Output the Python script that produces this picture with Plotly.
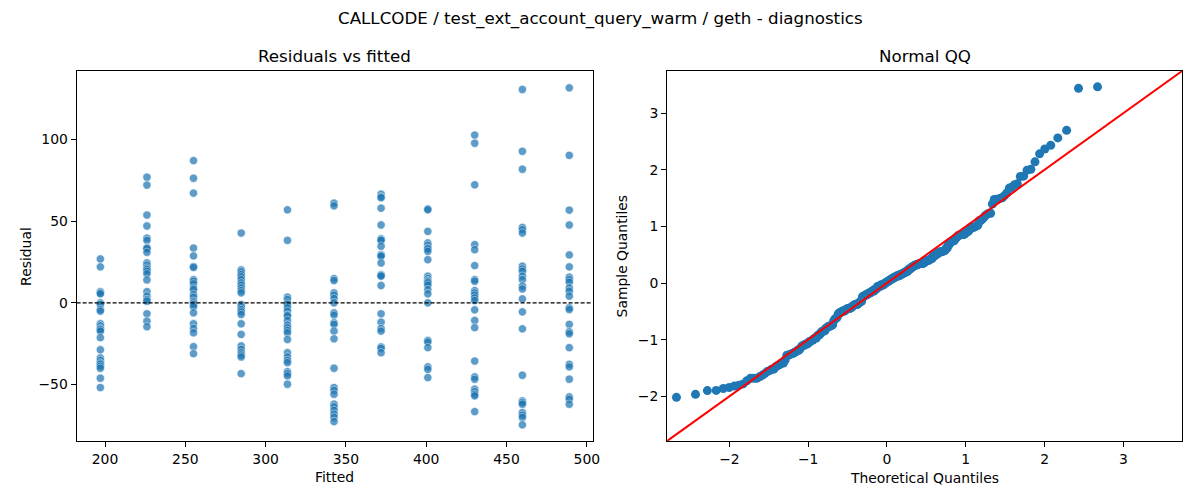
import plotly.graph_objects as go
from statistics import NormalDist

# ---- data ----
FITTED = [197.1, 226.1, 255.1, 284.8, 313.6, 342.6, 371.9, 401.0, 430.2, 459.9, 489.1]

RESID_197 = [26.8, 22.0, 6.9, 6.1, 5.5, 0.0, -1.0, -4.1, -5.1, -12.8, -14.2, -15.7,
             -16.3, -17.3, -21.3, -28.7, -33.7, -35.2, -36.8, -37.5, -38.8, -40.0, -46.1, -51.8]
RESID_226 = [76.8, 72.0, 53.7, 47.0, 39.6, 38.2, 33.7, 33.4, 33.1, 30.9, 24.4, 23.0,
             21.3, 20.5, 19.3, 17.7, 14.0, 6.9, 4.1, 2.0, 1.0, -6.7, -11.2, -14.6]
RESID_255 = [87.0, 76.2, 67.1, 33.5, 28.7, 22.2, 21.7, 14.2, 13.2, 11.6, 9.1, 8.1,
             5.1, 3.5, 1.0, 0.0, -1.0, -2.4, -6.1, -12.8, -15.7, -18.3, -26.8, -31.1]
RESID_285 = [42.7, 20.1, 18.9, 17.3, 15.9, 14.2, 12.2, 10.8, 9.1, 7.5, 6.1, -1.0,
             -2.4, -4.1, -5.5, -7.1, -12.8, -19.3, -26.4, -28.5, -30.5, -31.9, -33.1, -43.3]
RESID_314 = [56.9, 38.2, 3.5, 2.0, 0.0, -1.0, -3.0, -5.1, -7.5, -8.0, -10.8, -13.6,
             -15.2, -16.9, -18.3, -22.4, -30.5, -33.1, -35.2, -36.6, -42.1, -43.3, -44.7, -49.8]
RESID_343 = [61.0, 59.3, 14.8, 13.6, 6.1, 4.7, 2.6, 0.0, -6.1, -7.5, -12.2, -13.2,
             -17.3, -22.0, -40.0, -51.8, -53.5, -55.9, -62.0, -63.6, -65.7, -68.1, -70.0, -72.6]
RESID_372 = [66.5, 64.8, 64.3, 57.9, 47.6, 39.2, 38.6, 38.2, 34.6, 29.5, 29.0, 28.5,
             24.4, 17.3, 16.8, 16.3, 10.6, -6.7, -11.8, -15.7, -17.3, -27.0, -27.8, -30.5]
RESID_401 = [57.5, 56.9, 43.7, 36.6, 35.2, 33.5, 33.0, 31.5, 26.4, 16.3, 14.8, 13.6,
             13.0, 12.2, 10.8, 8.1, 5.5, 0.0, -23.0, -24.0, -27.4, -39.2, -40.7, -45.7]
RESID_430 = [102.6, 97.6, 72.2, 35.6, 32.5, 22.8, 14.2, 13.2, 7.5, 6.1, 4.7, 3.0,
             1.4, -4.3, -10.8, -15.2, -35.6, -45.3, -46.7, -52.8, -54.3, -55.9, -56.9, -66.5]
RESID_460 = [130.5, 92.7, 81.7, 46.1, 44.7, 42.7, 22.4, 20.7, 19.3, 16.3, 14.2, 10.2,
             8.5, 2.4, -5.5, -15.9, -44.3, -60.0, -61.0, -62.0, -67.1, -68.7, -70.1, -74.6]
RESID_489 = [131.5, 90.2, 56.7, 47.6, 29.3, 22.0, 15.7, 14.2, 12.6, 9.1, 7.1, 4.1,
             -3.0, -4.1, -13.2, -17.7, -18.9, -27.4, -37.6, -39.2, -46.7, -57.5, -58.9, -62.0]

RESID_COLUMNS = [RESID_197, RESID_226, RESID_255, RESID_285, RESID_314, RESID_343,
                 RESID_372, RESID_401, RESID_430, RESID_460, RESID_489]

X_TICKS_LEFT = [200, 250, 300, 350, 400, 450, 500]
Y_TICKS_LEFT = [-50, 0, 50, 100]
QQ_TICKS = [-2, -1, 0, 1, 2, 3]
QQ_TICK_TEXT = ["\u22122", "\u22121", "0", "1", "2", "3"]

SUPTITLE = "CALLCODE / test_ext_account_query_warm / geth - diagnostics"

# ---- derived ----
fit_x, res_y = [], []
for f, col in zip(FITTED, RESID_COLUMNS):
    for r in col:
        fit_x.append(f)
        res_y.append(r)

n = len(res_y)
srt = sorted(res_y)
mean = sum(srt) / n
std = (sum((v - mean) ** 2 for v in srt) / n) ** 0.5
sample_q = [(v - mean) / std for v in srt]
nd = NormalDist()
theo_q = [nd.inv_cdf(i / (n + 1)) for i in range(1, n + 1)]

QQ_LO, QQ_HI = -2.79, 3.745

FONT = "DejaVu Sans"
BLUE = "#1f77b4"
W, H = 1200, 500
OFF_X, OFF_Y = 4, 8  # page offset of the plot div


def px(x):
    return (x - OFF_X) / W


def py(y):
    return 1 - (y - OFF_Y) / H


fig = go.Figure()

fig.add_trace(go.Scatter(
    x=fit_x, y=res_y, mode="markers", xaxis="x", yaxis="y",
    marker=dict(color=BLUE, size=8.3, opacity=0.72,
                line=dict(color="white", width=0.6)),
    showlegend=False, hoverinfo="x+y"))

fig.add_trace(go.Scatter(
    x=theo_q, y=sample_q, mode="markers", xaxis="x2", yaxis="y2",
    marker=dict(color=BLUE, size=9, line=dict(width=0)),
    showlegend=False))

fig.add_trace(go.Scatter(
    x=[QQ_LO, QQ_HI], y=[QQ_LO, QQ_HI], mode="lines", xaxis="x2", yaxis="y2",
    line=dict(color="red", width=2), showlegend=False, hoverinfo="skip"))

axis_common = dict(
    showgrid=False, zeroline=False, showline=True, linecolor="black", linewidth=1,
    mirror=True, ticks="outside", ticklen=5, tickwidth=1, tickcolor="black",
    tickfont=dict(family=FONT, size=13.9, color="black"),
)

top, bottom = py(71), py(441)

fig.update_layout(
    width=W, height=H,
    margin=dict(l=0, r=0, t=0, b=0),
    paper_bgcolor="white", plot_bgcolor="white",
    font=dict(family=FONT, color="black"),
    xaxis=dict(domain=[px(73), px(592)], range=[182.3, 503.6],
               tickvals=X_TICKS_LEFT, anchor="y", **axis_common),
    yaxis=dict(domain=[bottom, top], range=[-84.5, 141.8],
               tickvals=Y_TICKS_LEFT, anchor="x", **axis_common),
    xaxis2=dict(domain=[px(667), px(1185)], range=[QQ_LO, QQ_HI],
                tickvals=QQ_TICKS, ticktext=QQ_TICK_TEXT,
                anchor="y2", **axis_common),
    yaxis2=dict(domain=[bottom, top], range=[QQ_LO, QQ_HI],
                tickvals=QQ_TICKS, ticktext=QQ_TICK_TEXT,
                anchor="x2", **axis_common),
    shapes=[dict(type="line", xref="x domain", yref="y", x0=0, x1=1, y0=0, y1=0,
                 line=dict(color="black", width=1.1, dash="4px,2px"))],
)


def label(text, x, y, size, angle=0):
    return dict(text=text, x=px(x), y=py(y), xref="paper", yref="paper",
                showarrow=False, textangle=angle, font=dict(size=size, family=FONT),
                xanchor="center", yanchor="middle")


fig.update_layout(annotations=[
    label(SUPTITLE, 600, 18, 16.7),
    label("Residuals vs fitted", 332.5, 56, 16.7),
    label("Normal QQ", 926, 56, 16.7),
    label("Fitted", 332.5, 477, 13.9),
    label("Residual", 22, 256, 13.9, -90),
    label("Theoretical Quantiles", 926, 478, 13.9),
    label("Sample Quantiles", 622, 256, 13.9, -90),
])

fig.write_html("out.html")
